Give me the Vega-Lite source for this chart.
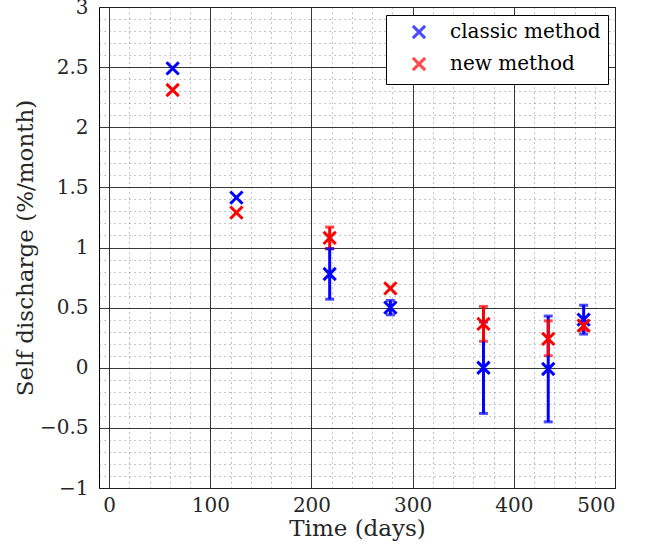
{
  "$schema": "https://vega.github.io/schema/vega-lite/v6.json",
  "width": 516,
  "height": 481,
  "autosize": {"type": "none"},
  "padding": {"left": 99, "top": 7, "right": 39, "bottom": 65},
  "background": "white",
  "config": {
    "font": "DejaVu Serif",
    "view": {"stroke": "black", "strokeWidth": 1},
    "axis": {
      "labelFont": "DejaVu Serif",
      "titleFont": "DejaVu Serif",
      "labelFontSize": 20,
      "titleFontSize": 23,
      "titleFontWeight": "normal",
      "labelColor": "#262626",
      "titleColor": "#262626"
    }
  },
  "data": {
    "values": [
      {"method": "classic method", "time": 62.8, "value": 2.49, "lo": null, "hi": null},
      {"method": "classic method", "time": 125.8, "value": 1.415, "lo": null, "hi": null},
      {"method": "classic method", "time": 218, "value": 0.78, "lo": 0.57, "hi": 0.99},
      {"method": "classic method", "time": 278, "value": 0.5, "lo": 0.44, "hi": 0.56},
      {"method": "classic method", "time": 370, "value": 0.0, "lo": -0.38, "hi": 0.38},
      {"method": "classic method", "time": 434, "value": -0.01, "lo": -0.45, "hi": 0.43},
      {"method": "classic method", "time": 469, "value": 0.4, "lo": 0.28, "hi": 0.52},
      {"method": "new method", "time": 62.8, "value": 2.31, "lo": null, "hi": null},
      {"method": "new method", "time": 125.8, "value": 1.29, "lo": null, "hi": null},
      {"method": "new method", "time": 218, "value": 1.08, "lo": 0.99, "hi": 1.17},
      {"method": "new method", "time": 278, "value": 0.66, "lo": null, "hi": null},
      {"method": "new method", "time": 370, "value": 0.365, "lo": 0.22, "hi": 0.51},
      {"method": "new method", "time": 434, "value": 0.24, "lo": 0.1, "hi": 0.39},
      {"method": "new method", "time": 469, "value": 0.35, "lo": 0.31, "hi": 0.39}
    ]
  },
  "resolve": {"axis": {"x": "independent", "y": "independent"}},
  "layer": [
    {
      "mark": {"type": "tick", "thickness": 3, "size": 9, "orient": "horizontal"},
      "encoding": {
        "x": {"field": "time", "type": "quantitative", "scale": {"domain": [-10, 500], "nice": false, "zero": false},
          "axis": {"orient": "top", "values": [20,40,60,80,120,140,160,180,220,240,260,280,320,340,360,380,420,440,460,480], "labels": false, "ticks": false, "domain": false, "title": null, "grid": true, "gridColor": "#555", "gridDash": [1, 4], "gridWidth": 1, "gridOpacity": 0.7}},
        "y": {"field": "lo", "type": "quantitative", "scale": {"domain": [-1, 3], "nice": false, "zero": false},
          "axis": {"orient": "right", "values": [-0.9,-0.8,-0.7,-0.6,-0.4,-0.3,-0.2,-0.1,0.1,0.2,0.3,0.4,0.6,0.7,0.8,0.9,1.1,1.2,1.3,1.4,1.6,1.7,1.8,1.9,2.1,2.2,2.3,2.4,2.6,2.7,2.8,2.9], "labels": false, "ticks": false, "domain": false, "title": null, "grid": true, "gridColor": "#555", "gridDash": [1, 4], "gridWidth": 1, "gridOpacity": 0.7}},
        "color": {"field": "method", "type": "nominal", "scale": {"domain": ["classic method", "new method"], "range": ["#0000ff", "#ff0000"]}}
      }
    },
    {
      "mark": {"type": "rule", "strokeWidth": 3},
      "encoding": {
        "x": {"field": "time", "type": "quantitative",
          "axis": {"orient": "bottom", "values": [0, 100, 200, 300, 400, 500], "format": "d", "title": "Time (days)", "grid": true, "gridColor": "#222", "gridWidth": 1, "gridOpacity": 0.9, "ticks": false, "domain": false, "labelPadding": 7, "titlePadding": 2}},
        "y": {"field": "lo", "type": "quantitative",
          "axis": {"orient": "left", "values": [-1, -0.5, 0, 0.5, 1, 1.5, 2, 2.5, 3], "format": "~g", "title": "Self discharge (%/month)", "grid": true, "gridColor": "#222", "gridWidth": 1, "gridOpacity": 0.9, "ticks": false, "domain": false, "labelPadding": 11, "titlePadding": 2}},
        "y2": {"field": "hi"},
        "color": {"field": "method", "type": "nominal"}
      }
    },
    {
      "mark": {"type": "tick", "thickness": 3, "size": 9, "orient": "horizontal"},
      "encoding": {
        "x": {"field": "time", "type": "quantitative", "axis": null},
        "y": {"field": "hi", "type": "quantitative", "axis": null},
        "color": {"field": "method", "type": "nominal"}
      }
    },
    {
      "mark": {"type": "point", "shape": "M-1,-1L1,1M-1,1L1,-1", "filled": false, "strokeWidth": 3, "size": 150, "opacity": 1},
      "encoding": {
        "x": {"field": "time", "type": "quantitative", "axis": null},
        "y": {"field": "value", "type": "quantitative", "axis": null},
        "color": {"field": "method", "type": "nominal",
          "legend": {"orient": "none", "legendX": 287, "legendY": 8, "title": null, "fillColor": "white", "strokeColor": "black", "padding": 7, "symbolType": "M-1,-1L1,1M-1,1L1,-1", "symbolSize": 150, "symbolStrokeWidth": 3, "symbolFillColor": "transparent", "symbolOpacity": 1, "symbolOffset": 16, "labelOffset": 21, "labelFontSize": 20, "labelFont": "DejaVu Serif", "labelColor": "black", "rowPadding": 6,
            "encode": {"symbols": {"update": {"opacity": {"value": 1}, "strokeOpacity": {"value": 1}, "fillOpacity": {"value": 0}, "strokeWidth": {"value": 3}, "stroke": {"scale": "color", "field": "value"}}}}}}
      }
    }
  ]
}
